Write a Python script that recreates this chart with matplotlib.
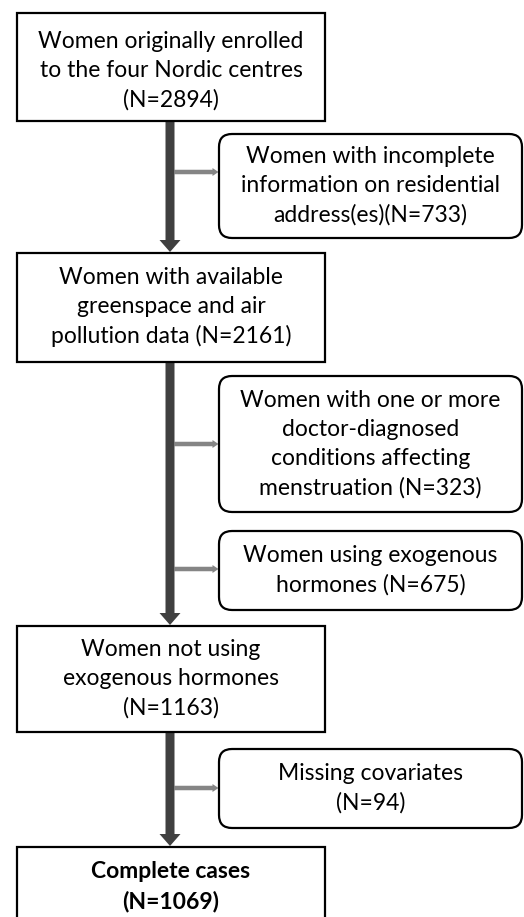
import matplotlib
matplotlib.use("Agg")
import matplotlib.pyplot as plt
from matplotlib.patches import Rectangle, FancyBboxPatch, FancyArrow

plt.rcParams["font.family"] = ["Lato", "DejaVu Sans"]

# flow texts
MAIN_TEXT = [
    "Women originally enrolled\nto the four Nordic centres\n(N=2894)",
    "Women with available\ngreenspace and air\npollution data (N=2161)",
    "Women not using\nexogenous hormones\n(N=1163)",
    "Complete cases\n(N=1069)",
]
EXCL_TEXT = [
    "Women with incomplete\ninformation on residential\naddress(es)(N=733)",
    "Women with one or more\ndoctor-diagnosed\nconditions affecting\nmenstruation (N=323)",
    "Women using exogenous\nhormones (N=675)",
    "Missing covariates\n(N=94)",
]

# layout in pixels (y downward)
MAIN_X = (17, 325)
MAIN_Y = [(13, 121), (253, 362), (626, 732), (847, 935)]
MAIN_TEXT_Y = [71, 307, 679, 887]
EXCL_X = (219, 522)
EXCL_Y = [(134, 238), (376, 512), (531, 610), (749, 828)]
EXCL_ARROW_Y = [172, 444, 569, 788]
TRUNK_X = 170
DARK = "#404040"
GREY = "#858585"
FS = 16.5
LS = 1.47

W, H = 524, 917
fig = plt.figure(figsize=(W / 100, H / 100), dpi=100)
ax = fig.add_axes([0, 0, 1, 1])
ax.set_xlim(0, W)
ax.set_ylim(H, 0)
ax.axis("off")

# main trunk arrows between main boxes
for i in range(len(MAIN_Y) - 1):
    y0 = MAIN_Y[i][1]
    y1 = MAIN_Y[i + 1][0]
    ax.add_patch(FancyArrow(TRUNK_X, y0, 0, y1 - y0 - 1, width=9,
                            head_width=21, head_length=12,
                            length_includes_head=True, color=DARK, lw=0, zorder=2))

# side arrows to exclusion boxes
for ya in EXCL_ARROW_Y:
    ax.add_patch(FancyArrow(TRUNK_X + 4.5, ya, EXCL_X[0] - TRUNK_X - 5, 0, width=4.5,
                            head_width=8, head_length=6,
                            length_includes_head=True, color=GREY, lw=0, zorder=1))

# main boxes
for i, txt in enumerate(MAIN_TEXT):
    y0, y1 = MAIN_Y[i]
    ax.add_patch(Rectangle((MAIN_X[0], y0), MAIN_X[1] - MAIN_X[0], y1 - y0,
                           fill=True, fc="white", ec="black", lw=1.6, zorder=3))
    ax.text((MAIN_X[0] + MAIN_X[1]) / 2, MAIN_TEXT_Y[i], txt,
            ha="center", va="center", fontsize=FS, linespacing=LS,
            fontweight="bold" if i == 3 else "normal", zorder=4)

# exclusion boxes
for i, txt in enumerate(EXCL_TEXT):
    y0, y1 = EXCL_Y[i]
    ax.add_patch(FancyBboxPatch((EXCL_X[0], y0), EXCL_X[1] - EXCL_X[0], y1 - y0,
                                boxstyle="round,pad=0,rounding_size=13",
                                fc="white", ec="black", lw=1.6, zorder=3))
    ax.text((EXCL_X[0] + EXCL_X[1]) / 2, (y0 + y1) / 2, txt,
            ha="center", va="center", fontsize=FS, linespacing=LS, zorder=4)

fig.savefig("out.png", dpi=100, facecolor="white")
